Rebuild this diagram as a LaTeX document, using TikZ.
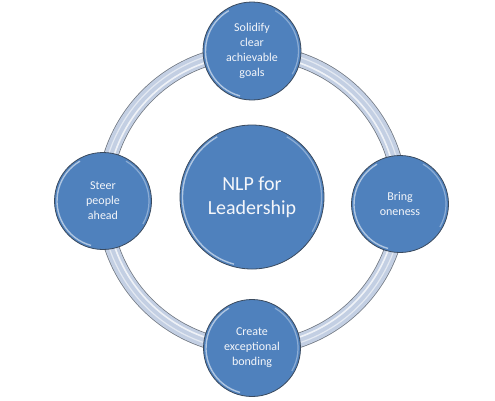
\documentclass[tikz,border=0pt]{standalone}
\usepackage{fontspec}
\setmainfont{Carlito}
\definecolor{nodeblue}{HTML}{4F81BD}
\definecolor{nodeedge}{HTML}{3A4A5E}
\definecolor{ringfill}{HTML}{C3CFE3}
\definecolor{ringedge}{HTML}{6F7680}
\definecolor{txt}{HTML}{F4F6FA}
\begin{document}
\begin{tikzpicture}[x=1pt,y=-1pt,
  bubble/.style={circle, fill=nodeblue, draw=nodeedge, line width=0.8pt,
     text=txt, align=center, inner sep=0pt, font=\fontsize{12}{15}\selectfont},
  hub/.style={bubble, font=\fontsize{20}{24}\selectfont}]
\useasboundingbox (0,0) rectangle (495,400);
% ring
\coordinate (rc) at (252,200);
\draw[ringedge, line width=15pt] (rc) circle[radius=148];
\draw[ringfill, line width=13.5pt] (rc) circle[radius=148];
\draw[white, opacity=0.75, line width=1.6pt] (rc) circle[radius=145];
\draw[white, opacity=0.55, line width=1.2pt] (rc) circle[radius=150.5];
% nodes
\node[hub, minimum size=144pt] (c) at (252,197) {NLP for\\Leadership};
\node[bubble, minimum size=98pt] (t) at (252,51) {Solidify\\clear\\achievable\\goals};
\node[bubble, minimum size=97pt] (r) at (400,204) {Bring\\oneness};
\node[bubble, minimum size=97pt] (b) at (252,348) {Create\\exceptional\\bonding};
\node[bubble, minimum size=97pt] (l) at (103,201) {Steer\\people\\ahead};
% highlights
\foreach \n/\rr in {c/69.5,t/46.5,r/46,b/46,l/46}{
  \draw[white, opacity=0.55, line width=1.4pt] (\n.center) ++(105:\rr) arc[start angle=105, end angle=240, radius=\rr];
  \draw[white, opacity=0.35, line width=1.2pt] (\n.center) ++(-60:\rr) arc[start angle=-60, end angle=30, radius=\rr];
}
\end{tikzpicture}
\end{document}
